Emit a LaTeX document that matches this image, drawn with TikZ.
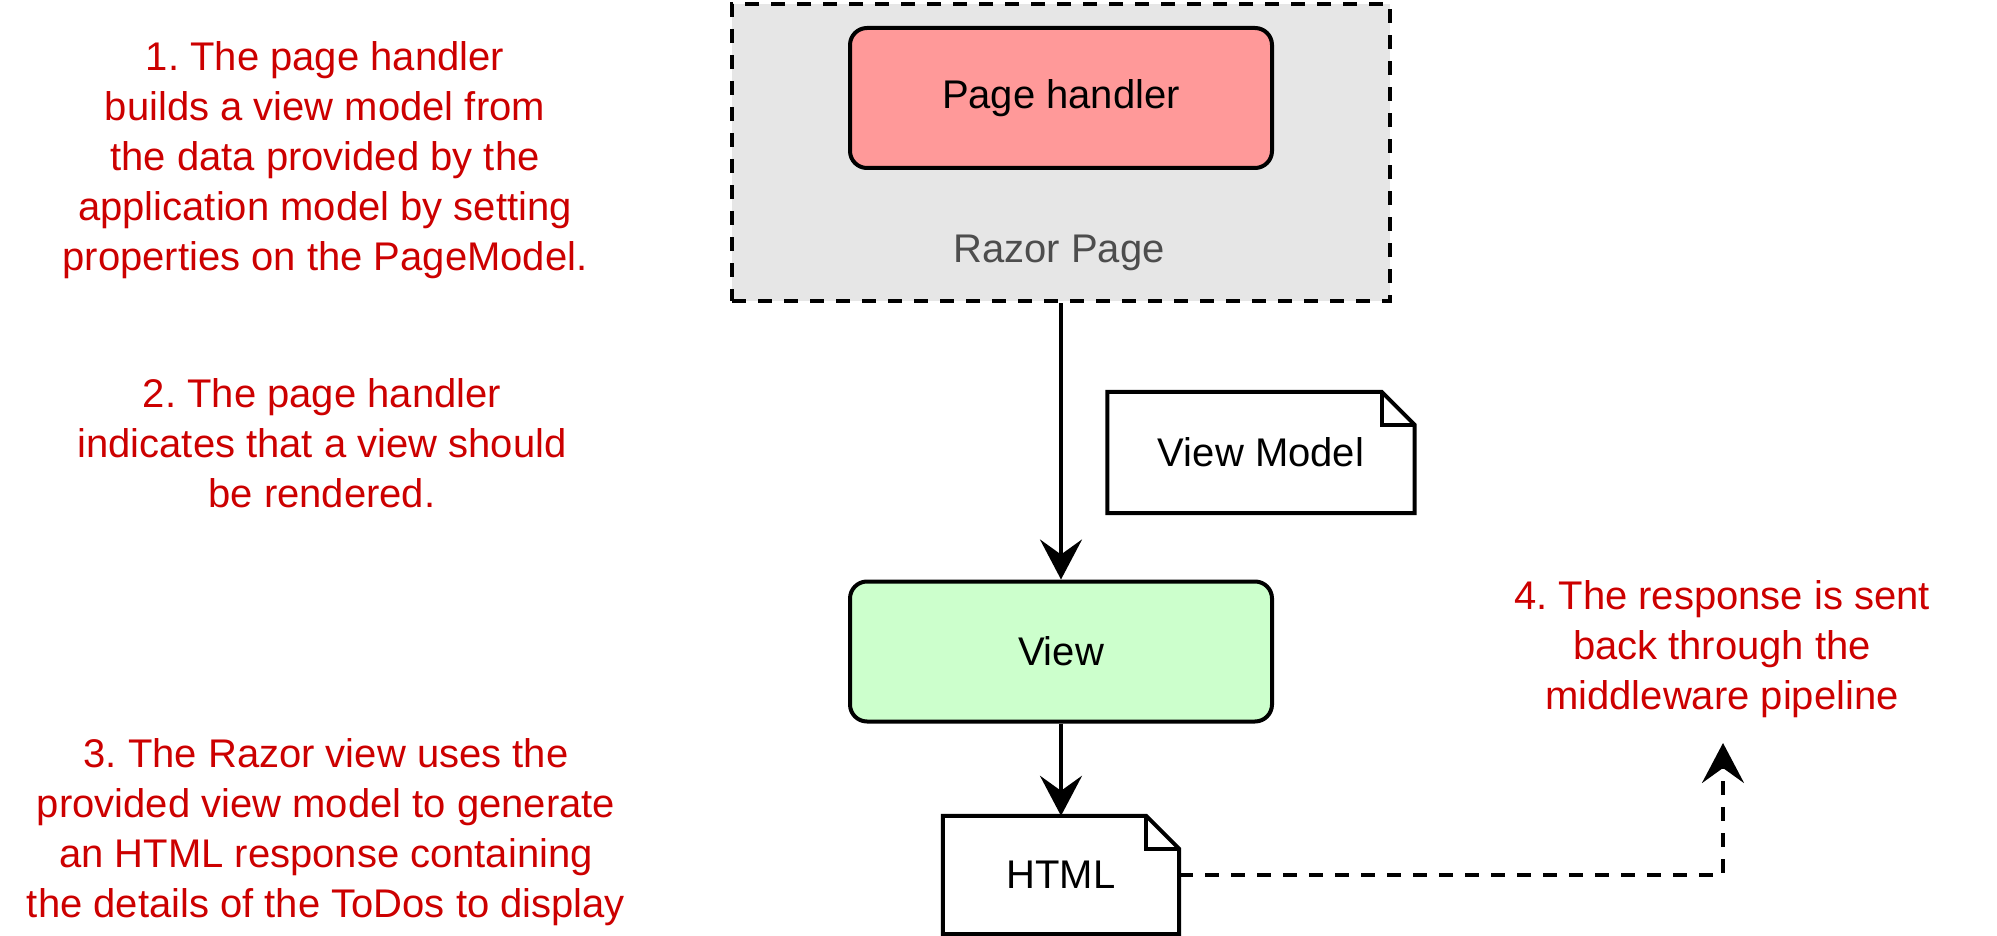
\documentclass[tikz,border=0pt]{standalone}
\usepackage{fontspec}
\setmainfont{Liberation Sans}
\frenchspacing
\usetikzlibrary{arrows.meta}
\definecolor{note-red}{HTML}{CC0000}
\definecolor{handler-fill}{HTML}{FF9999}
\definecolor{view-fill}{HTML}{CCFFCC}
\definecolor{page-fill}{HTML}{E6E6E6}
\definecolor{page-text}{HTML}{4D4D4D}
\tikzset{
    big-font/.style = {font=\fontsize{40}{50}\selectfont},
    step-box/.style = {draw, line width=4pt, rounded corners=17pt, minimum width=422pt, minimum height=140pt, inner sep=0pt, big-font},
    page-box/.style = {draw, fill=page-fill, line width=4pt, dash pattern=on 14pt off 12pt, minimum width=658pt, minimum height=297pt, inner sep=0pt},
    note-box/.style = {inner sep=0pt, big-font},
    red-text/.style = {text=note-red, align=center, big-font},
    flow/.style = {line width=4pt, -{Stealth[length=40pt, width=42pt, inset=15pt]}},
}
\newcommand{\dogear}[1]{%
    \draw[line width=4pt, line join=miter] (#1.south west) -- (#1.north west) -- ([xshift=-33pt]#1.north east) -- ([yshift=-33pt]#1.north east) -- (#1.south east) -- cycle;
    \draw[line width=4pt] ([xshift=-33pt]#1.north east) |- ([yshift=-33pt]#1.north east);}

\begin{document}
\begin{tikzpicture}[x=1pt, y=-1pt]
\useasboundingbox (0,0) rectangle (1997,936);
\node [page-box] (razor) at (1061,152.5) {};
\node [step-box, fill=handler-fill] (handler) at (1061,98) {Page handler};
\node [big-font, text=page-text] (razor-label) at (1059,253) {Razor Page};
\node [step-box, fill=view-fill] (view) at (1061,651.5) {View};
\node [note-box, minimum width=307pt, minimum height=121pt] (view-model) at (1261,452.5) {View Model};
\dogear{view-model}
\node [note-box, minimum width=236pt, minimum height=118pt] (html) at (1061,875) {HTML};
\dogear{html}
\coordinate (pipeline) at (1723,743);

\draw [flow] (razor) -- (view);
\draw [flow] (view) -- (html);
\draw [flow, dash pattern=on 14pt off 12pt] (html.east) -| (pipeline);

\node [red-text] (step-one) at (325,160) {1. The page handler\\builds a view model from\\the data provided by the\\application model by setting\\properties on the PageModel.};
\node [red-text] (step-two) at (322,443.5) {2. The page handler\\indicates that a view should\\be rendered.};
\node [red-text] (step-three) at (326,832) {3. The Razor view uses the\\provided view model to generate\\an HTML response containing\\the details of the ToDos to display};
\node [red-text] (step-four) at (1722,649) {4. The response is sent\\back through the\\middleware pipeline};
\end{tikzpicture}
\end{document}
